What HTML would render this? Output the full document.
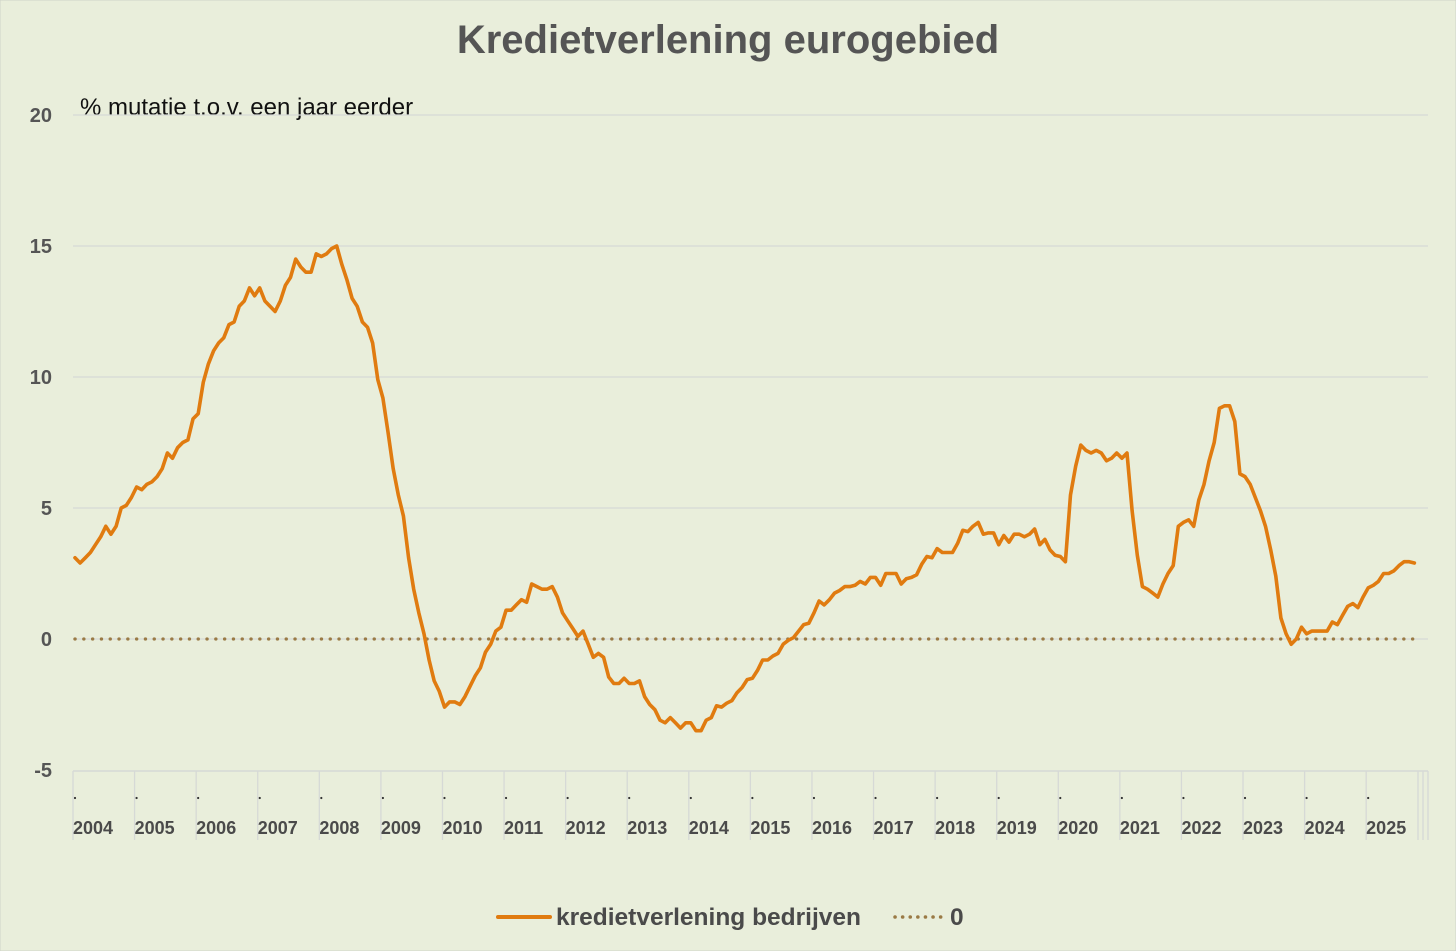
<!DOCTYPE html>
<html><head><meta charset="utf-8">
<style>
html,body{margin:0;padding:0;background:#e9eedb;}
svg{display:block;font-family:"Liberation Sans",sans-serif;}
</style></head>
<body>
<svg id="chart" width="1456" height="951" viewBox="0 0 1456 951">
<rect x="0" y="0" width="1456" height="951" fill="#e9eedb" stroke="#d0d4c8"/>
<text x="728" y="53" text-anchor="middle" font-size="40" font-weight="bold" fill="#555">Kredietverlening eurogebied</text>
<text x="80" y="115" font-size="24" fill="#111">% mutatie t.o.v. een jaar eerder</text>
<g id="grid"></g>
<g id="xaxis"></g>
<g id="series"></g>
<g>
<line x1="498" y1="917" x2="550" y2="917" stroke="#e07b10" stroke-width="4" stroke-linecap="round"/>
<text x="556" y="925" font-size="24.5" font-weight="bold" fill="#4a4a4a">kredietverlening bedrijven</text>
<line x1="895" y1="917" x2="942" y2="917" stroke="#9a7a45" stroke-width="3.5" stroke-dasharray="0.1 7.5" stroke-linecap="round"/>
<text x="950" y="925" font-size="24.5" font-weight="bold" fill="#4a4a4a">0</text>
</g>
</svg>
<script>
const yTicks = [20, 15, 10, 5, 0, -5];
const years = [2004,2005,2006,2007,2008,2009,2010,2011,2012,2013,2014,2015,2016,2017,2018,2019,2020,2021,2022,2023,2024,2025];
const startYear = 2004;
const credit = [
3.1,2.9,3.1,3.3,3.6,3.9,4.3,4.0,4.3,5.0,5.1,5.4,
5.8,5.7,5.9,6.0,6.2,6.5,7.1,6.9,7.3,7.5,7.6,8.4,
8.6,9.8,10.5,11.0,11.3,11.5,12.0,12.1,12.7,12.9,13.4,13.1,
13.4,12.9,12.7,12.5,12.9,13.5,13.8,14.5,14.2,14.0,14.0,14.7,
14.6,14.7,14.9,15.0,14.3,13.7,13.0,12.7,12.1,11.9,11.3,9.9,
9.2,7.9,6.5,5.5,4.7,3.1,1.9,1.0,0.2,-0.8,-1.6,-2.0,
-2.6,-2.4,-2.4,-2.5,-2.2,-1.8,-1.4,-1.1,-0.5,-0.2,0.3,0.45,
1.1,1.1,1.3,1.5,1.4,2.1,2.0,1.9,1.9,2.0,1.6,1.0,
0.7,0.4,0.1,0.3,-0.2,-0.7,-0.55,-0.7,-1.45,-1.7,-1.7,-1.5,
-1.7,-1.7,-1.6,-2.2,-2.5,-2.7,-3.1,-3.2,-3.0,-3.2,-3.4,-3.2,
-3.2,-3.5,-3.5,-3.1,-3.0,-2.55,-2.6,-2.45,-2.35,-2.05,-1.85,-1.55,
-1.5,-1.2,-0.8,-0.8,-0.65,-0.55,-0.2,-0.05,0.05,0.3,0.55,0.6,
1.0,1.45,1.3,1.5,1.75,1.85,2.0,2.0,2.05,2.2,2.1,2.35,
2.35,2.05,2.5,2.5,2.5,2.1,2.3,2.35,2.45,2.85,3.15,3.1,
3.45,3.3,3.3,3.3,3.65,4.15,4.1,4.3,4.45,4.0,4.05,4.05,
3.6,3.95,3.7,4.0,4.0,3.9,4.0,4.2,3.6,3.8,3.4,3.2,
3.15,2.95,5.5,6.6,7.4,7.2,7.1,7.2,7.1,6.8,6.9,7.1,
6.9,7.1,4.9,3.2,2.0,1.9,1.75,1.6,2.1,2.5,2.8,4.3,
4.45,4.55,4.3,5.3,5.9,6.8,7.5,8.8,8.9,8.9,8.3,6.3,
6.2,5.9,5.4,4.9,4.3,3.4,2.4,0.8,0.2,-0.2,0.0,0.45,
0.2,0.3,0.3,0.3,0.3,0.65,0.55,0.9,1.25,1.35,1.2,1.6,
1.95,2.05,2.2,2.5,2.5,2.6,2.8,2.95,2.95,2.9
];
const zeroLine = 0;

const NS = "http://www.w3.org/2000/svg";
const plotL = 73, plotR = 1428, yearW = 61.58;
function yScale(v){ return 639 - v * 26.2; }
function xYear(y){ return plotL + (y - startYear) * yearW; }
function xMonth(i){ return xYear(startYear) + 2 + i * (yearW / 12); }
function mk(tag, attrs, parent){
  const e = document.createElementNS(NS, tag);
  for (const k in attrs) e.setAttribute(k, attrs[k]);
  parent.appendChild(e);
  return e;
}
const grid = document.getElementById('grid');
yTicks.forEach(t => {
  const y = yScale(t);
  if (t > -5) {
    const l = mk('line', {x1: plotL, x2: plotR, y1: y, y2: y, stroke: '#d6d9d6', 'stroke-width': 1.3}, grid);
    
    
  }
  const tx = mk('text', {x: 52, y: y + 7, 'text-anchor': 'end', 'font-size': 20, 'font-weight': 'bold', fill: '#555'}, grid);
  tx.textContent = t;
  
  
});
const xa = document.getElementById('xaxis');
const axisY = yScale(-5) + 1;
const al = mk('line', {x1: plotL, x2: plotR, y1: axisY, y2: axisY, stroke: '#d6d9d6', 'stroke-width': 1.5}, xa);


years.forEach(yr => {
  const x = xYear(yr);
  const tl = mk('line', {x1: x, x2: x, y1: axisY, y2: 840, stroke: '#d6d9d6', 'stroke-width': 1.3}, xa);
  
  
  const dot = mk('circle', {cx: x + 2, cy: 798, r: 1.1, fill: '#333'}, xa);
  
  
  const tx = mk('text', {x: x, y: 834, 'font-size': 18, 'font-weight': 'bold', fill: '#4a4a4a'}, xa);
  tx.textContent = yr;
  
  
});
[1418, 1423, plotR].forEach(x => {
  const l = mk('line', {x1: x, x2: x, y1: axisY, y2: 840, stroke: '#d6d9d6', 'stroke-width': 1.3}, xa);
  
  
});
const s = document.getElementById('series');
const zl = mk('line', {x1: xMonth(0), x2: xMonth(credit.length - 1), y1: yScale(zeroLine), y2: yScale(zeroLine), stroke: '#9a7a45', 'stroke-width': 3.3, 'stroke-dasharray': '0.1 8.7', 'stroke-linecap': 'round'}, s);


const pts = credit.map((v, i) => xMonth(i).toFixed(1) + ',' + yScale(v).toFixed(1)).join(' ');
const pl = mk('polyline', {points: pts, fill: 'none', stroke: '#e07b10', 'stroke-width': 3.6, 'stroke-linejoin': 'round', 'stroke-linecap': 'round'}, s);


</script>
</body></html>
